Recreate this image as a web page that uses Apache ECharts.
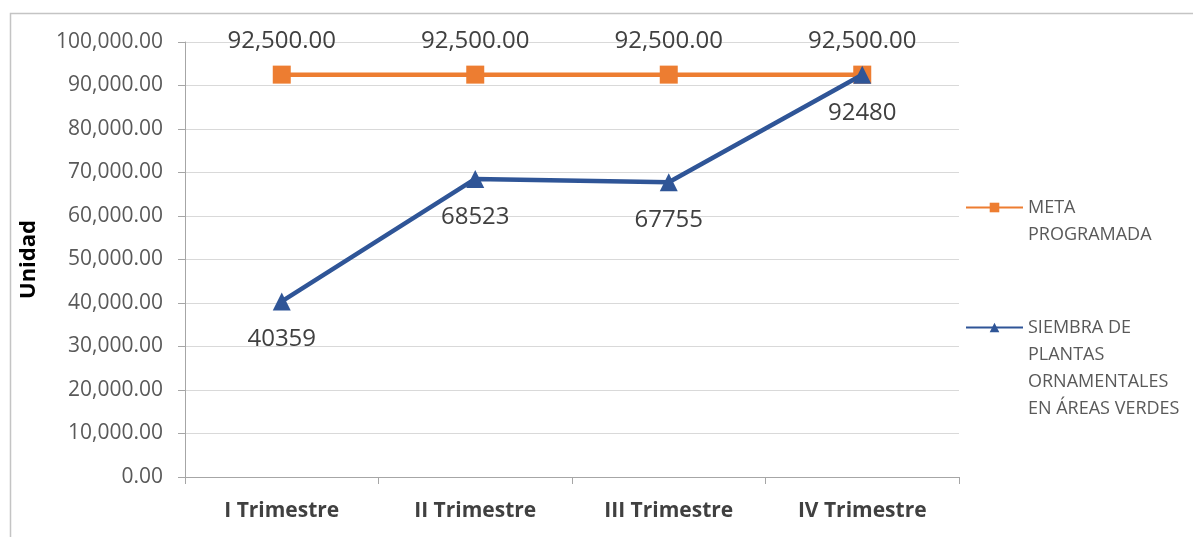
<!DOCTYPE html>
<html>
<head>
<meta charset="utf-8">
<script src="https://cdn.jsdelivr.net/npm/echarts@6/dist/echarts.min.js"></script>
<style>
  html, body { margin: 0; padding: 0; background: #fff; }
  #lineChart { width: 1193px; height: 537px; }
</style>
</head>
<body>
<div id="lineChart"></div>
<script>
// datos del gráfico
const categorias = ['I Trimestre', 'II Trimestre', 'III Trimestre', 'IV Trimestre'];
const metaProgramada = [92500, 92500, 92500, 92500];
const siembraPlantas = [40359, 68523, 67755, 92480];
const nombreMeta = 'META PROGRAMADA';
const nombreSiembra = 'SIEMBRA DE PLANTAS ORNAMENTALES EN ÁREAS VERDES';
// lineas de la leyenda
const lineasLeyenda = {};
lineasLeyenda[nombreMeta] = ['META', 'PROGRAMADA'];
lineasLeyenda[nombreSiembra] = ['SIEMBRA DE', 'PLANTAS', 'ORNAMENTALES', 'EN ÁREAS VERDES'];

const fuente = '"Open Sans", "Noto Sans", sans-serif';
let myChart = echarts.init(document.getElementById('lineChart'));

// el icono queda centrado en el bloque de texto: se anteponen lineas vacias
// para que el icono quede a la altura de la primera linea
let formatoLeyenda = function (name) {
  let lineas = lineasLeyenda[name];
  let vacias = [];
  for (let i = 1; i < lineas.length; i++) vacias.push(' ');
  return vacias.concat(lineas).join('\n');
};

let legendBase = {
  orient: 'vertical',
  left: 965,
  padding: 0,
  itemWidth: 57,
  itemHeight: 12,
  formatter: formatoLeyenda,
  textStyle: { fontFamily: fuente, fontSize: 18, color: '#595959', lineHeight: 27 }
};
const numero = function (v) {
  return v.toLocaleString('en-US', { minimumFractionDigits: 2, maximumFractionDigits: 2 });
};

let option = {
  animation: false,
  textStyle: { fontFamily: fuente },
  graphic: [{
    type: 'rect',
    shape: { x: 10.5, y: 13.5, width: 1300, height: 700 },
    style: { fill: 'none', stroke: '#c4c4c4', lineWidth: 1.5 },
    silent: true
  }],
  legend: [
    Object.assign({}, legendBase, {
      top: 167,
      data: [nombreMeta]
    }),
    Object.assign({}, legendBase, {
      top: 233,
      data: [nombreSiembra]
    })
  ],
  grid: {
    left: 185,
    right: 234,
    top: 42,
    bottom: 60
  },
  xAxis: {
    type: 'category',
    data: categorias,
    boundaryGap: true,
    axisLine: { lineStyle: { color: '#a6a6a6', width: 1 } },
    axisTick: { show: true, alignWithLabel: false, length: 7, lineStyle: { color: '#a6a6a6' } },
    axisLabel: {
      margin: 24,
      fontSize: 21,
      fontWeight: 'bold',
      color: '#404040',
      fontFamily: fuente
    }
  },
  yAxis: {
    type: 'value',
    min: 0,
    max: 100000,
    interval: 10000,
    name: 'Unidad',
    nameLocation: 'middle',
    nameRotate: 90,
    nameGap: 145,
    nameTextStyle: { fontSize: 22, fontWeight: 'bold', color: '#000', fontFamily: fuente },
    axisLine: { show: true, lineStyle: { color: '#a6a6a6', width: 1 } },
    axisTick: { show: true, inside: false, length: 7, lineStyle: { color: '#a6a6a6' } },
    splitLine: { lineStyle: { color: '#d9d9d9', width: 1 } },
    axisLabel: {
      margin: 22,
      fontSize: 21,
      color: '#595959',
      fontFamily: fuente,
      formatter: numero
    }
  },
  series: [
    {
      name: nombreMeta,
      type: 'line',
      data: metaProgramada,
      symbol: 'rect',
      symbolSize: 18,
      itemStyle: { color: '#ed7d31' },
      lineStyle: { color: '#ed7d31', width: 4.5 },
      label: {
        show: true,
        position: 'top',
        distance: 12,
        fontSize: 24,
        color: '#404040',
        fontFamily: fuente,
        formatter: function (p) {
          return numero(p.value);
        }
      },
      z: 2
    },
    {
      name: nombreSiembra,
      type: 'line',
      data: siembraPlantas,
      symbol: 'triangle',
      symbolSize: 18,
      itemStyle: { color: '#2f5597' },
      lineStyle: { color: '#2f5597', width: 4.5 },
      label: {
        show: true,
        position: 'bottom',
        distance: 17,
        fontSize: 24,
        color: '#404040',
        fontFamily: fuente
      },
      z: 3
    }
  ]
};

myChart.setOption(option);
</script>
</body>
</html>
